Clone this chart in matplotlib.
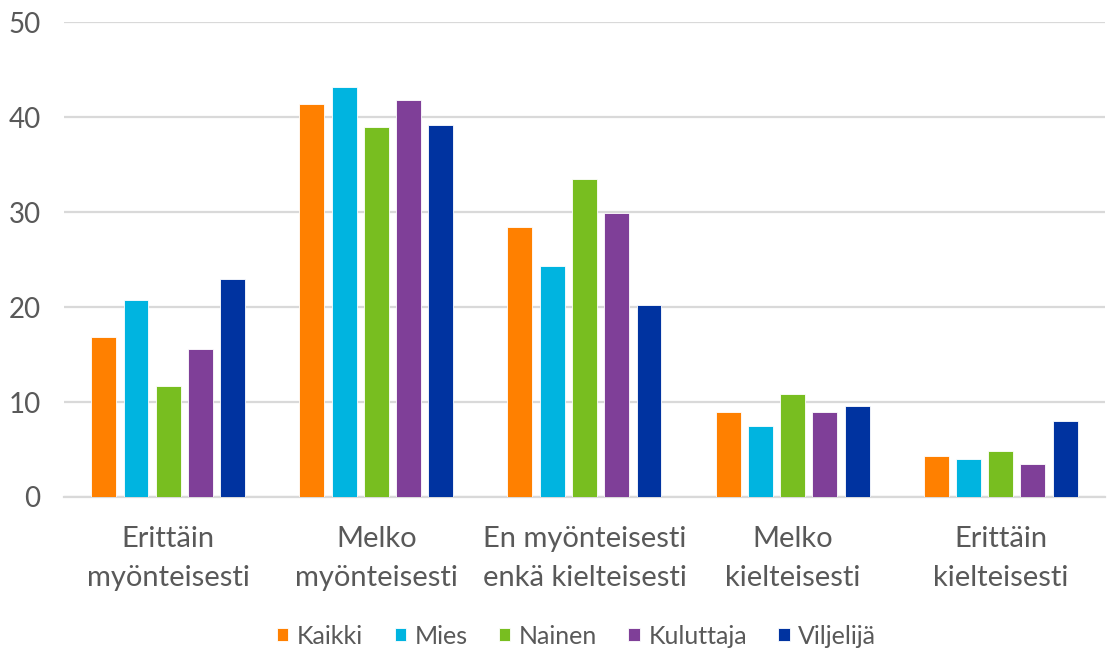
import matplotlib
import matplotlib.pyplot as plt
import numpy as np

matplotlib.use("Agg")

categories = [
    "Erittäin\nmyönteisesti",
    "Melko\nmyönteisesti",
    "En myönteisesti\nenkä kielteisesti",
    "Melko\nkielteisesti",
    "Erittäin\nkielteisesti",
]
series_names = ["Kaikki", "Mies", "Nainen", "Kuluttaja", "Viljelijä"]
kaikki = [16.8, 41.4, 28.4, 8.9, 4.3]
mies = [20.8, 43.2, 24.3, 7.5, 4.0]
nainen = [11.7, 39.0, 33.5, 10.9, 4.8]
kuluttaja = [15.6, 41.8, 29.9, 8.9, 3.5]
viljelija = [23.0, 39.2, 20.2, 9.6, 8.0]
y_ticks = [0, 10, 20, 30, 40, 50]

colors = ["#FF8000", "#00B4E0", "#78BE20", "#7F3F98", "#0033A0"]
grid_col = "#D9D9D9"
text_col = "#595959"

plt.rcParams["font.family"] = ["Lato", "DejaVu Sans"]

fig = plt.figure(figsize=(11.07, 6.51), dpi=100)
ax = fig.add_axes([0.058, 0.2366, 0.940, 0.7291])

x = np.arange(len(categories))
pitch = 0.155
width = 0.12
all_series = [kaikki, mies, nainen, kuluttaja, viljelija]
for i, (vals, name, col) in enumerate(zip(all_series, series_names, colors)):
    ax.bar(x + (i - 2) * pitch, vals, width, color=col, label=name,
           edgecolor="white", linewidth=0.6, zorder=3)

ax.set_xlim(-0.5, len(categories) - 0.5)
ax.set_ylim(0, 50)
ax.set_yticks(y_ticks)
ax.set_xticks(x)
ax.set_xticklabels(categories, linespacing=1.62)
ax.tick_params(axis="x", length=0, labelsize=21, colors=text_col, pad=21)
ax.tick_params(axis="y", length=0, labelsize=20, colors=text_col, pad=17)

ax.grid(axis="y", color=grid_col, linewidth=1.6, zorder=0)
ax.set_axisbelow(True)
for s in ["top", "right", "left"]:
    ax.spines[s].set_visible(False)
ax.spines["bottom"].set_color(grid_col)
ax.spines["bottom"].set_linewidth(1.6)

leg = ax.legend(loc="center", bbox_to_anchor=(0.521, 1 - 636 / 651), bbox_transform=fig.transFigure,
                ncol=5, frameon=False, fontsize=18, handlelength=0.45, handleheight=0.45,
                handletextpad=0.35, columnspacing=1.25)
for t in leg.get_texts():
    t.set_color(text_col)

fig.savefig("out.png", dpi=100)
plt.close(fig)
